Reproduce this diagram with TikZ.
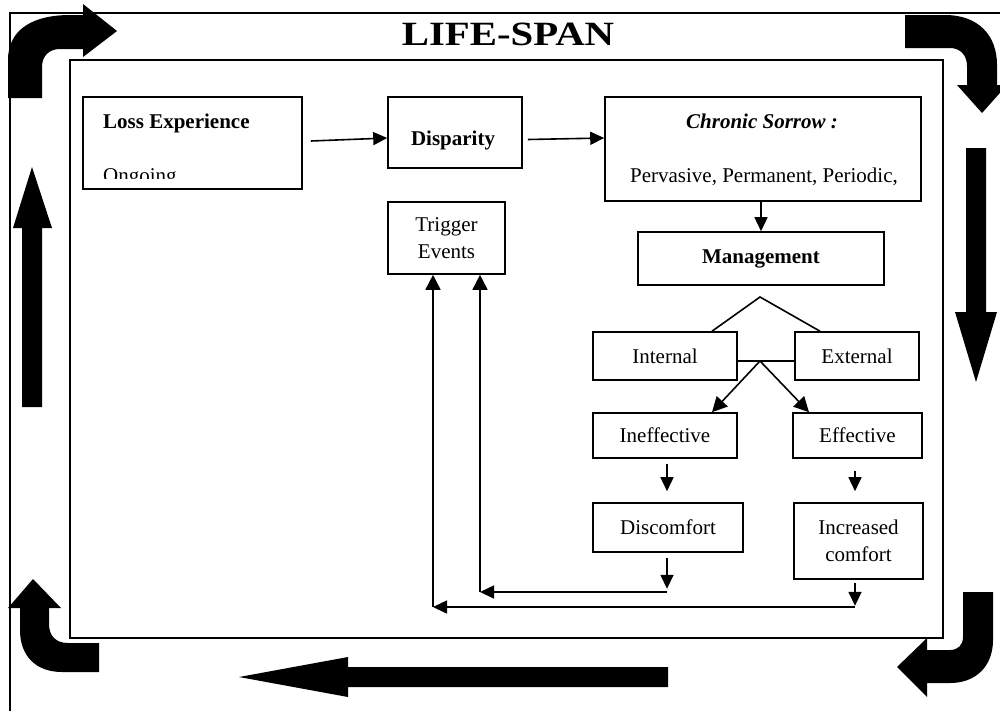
\documentclass[tikz,border=0pt]{standalone}
\usepackage{fontspec}
\setmainfont{Liberation Serif}
\newfontfamily\titlefont{Liberation Serif}[FakeStretch=1.2]
\usetikzlibrary{arrows.meta}
\begin{document}
\begin{tikzpicture}[x=1pt,y=-1pt,
  every node/.style={font=\fontsize{21}{27}\selectfont},
  box/.style={draw,line width=1.6pt,inner sep=0pt,align=center},
  lbl/.style={inner sep=0pt},
  ln/.style={line width=1.6pt},
  arr/.style={line width=1.6pt,-{Triangle[length=14pt,width=13pt]}},
  barr/.style={line width=1.6pt,-{Triangle[length=15pt,width=15pt]}},
  blk/.style={fill=black}]
\useasboundingbox (0,0) rectangle (1000,710);

% frames
\draw[ln] (10,712) -- (10,13) -- (1002,13);
\draw[ln] (70,60) rectangle (943,638);

% title
\node[lbl,font=\titlefont\fontsize{34}{40}\selectfont\bfseries,anchor=base] (title) at (508,45) {LIFE-SPAN};

% boxes
\node[box,minimum width=219pt,minimum height=92pt] (loss) at (192.5,143) {};
\begin{scope}
\clip (84,98) rectangle (301,178);
\node[lbl,anchor=base west,font=\fontsize{21}{27}\selectfont\bfseries] (losst) at (103,128) {Loss Experience};
\node[lbl,anchor=base west] (ong) at (103,182) {Ongoing};
\end{scope}

\node[box,minimum width=134pt,minimum height=71pt] (disp) at (455,132.5) {};
\node[lbl,font=\fontsize{21}{27}\selectfont\bfseries,anchor=base] (dispt) at (453,145) {Disparity};

\node[box,minimum width=316pt,minimum height=104pt] (chr) at (763,149) {};
\node[lbl,font=\fontsize{21}{27}\selectfont\bfseries\itshape,anchor=base] (chrt) at (762,128) {Chronic Sorrow :};
\node[lbl,anchor=base] (chrp) at (764,182) {Pervasive, Permanent, Periodic,};

\node[box,minimum width=246pt,minimum height=53pt,font=\fontsize{21}{27}\selectfont\bfseries] (mgmt) at (761,258.5) {Management};

\node[box,minimum width=117pt,minimum height=72pt] (trig) at (446.5,238) {Trigger\\Events};

\node[box,minimum width=144pt,minimum height=48pt] (int) at (665,356) {Internal};
\node[box,minimum width=124pt,minimum height=48pt] (ext) at (857,356) {External};
\node[box,minimum width=144pt,minimum height=45pt] (inef) at (665,435.5) {Ineffective};
\node[box,minimum width=129pt,minimum height=45pt] (eff) at (857.5,435.5) {Effective};
\node[box,minimum width=150pt,minimum height=49pt] (disc) at (668,527.5) {Discomfort};
\node[box,minimum width=129pt,minimum height=76pt] (inc) at (858.5,541) {Increased\\comfort};

% connectors
\draw[arr] ([shift={(8,-2)}]loss.east) -- ([shift={(0,5.5)}]disp.west);
\draw[arr] ([shift={(5,7)}]disp.east) -- ([shift={(0,-11)}]chr.west);
\draw[arr] (chr.south -| mgmt.north) -- (mgmt.north);

\coordinate (apex) at (760,297);
\draw[ln] ([shift={(47,0)}]int.north) -- (apex) -- ([shift={(-37,0)}]ext.north);
\draw[ln] ([shift={(0,5)}]int.east) -- ([shift={(0,5)}]ext.west);
\coordinate (mid) at (760,361);
\draw[barr] (mid) -- ([shift={(47,0)}]inef.north);
\draw[barr] (mid) -- ([shift={(-48.5,0)}]eff.north);

\draw[arr] ([shift={(2,5)}]inef.south) -- ([shift={(-1,-11)}]disc.north);
\draw[arr] ([shift={(-2.5,12)}]eff.south) -- ([shift={(-3.5,-11)}]inc.north);

\coordinate (r1) at (667,592);
\coordinate (l1) at (480,592);
\coordinate (r2) at (855,607);
\coordinate (l2) at (433,607);
\draw[arr] ([shift={(-1,5)}]disc.south) -- ([shift={(-1,36)}]disc.south);
\draw[arr] (r1) -- (l1);
\draw[barr] (l1) -- (l1 |- trig.south);
\draw[arr] ([shift={(-3.5,3)}]inc.south) -- ([shift={(-3.5,26)}]inc.south);
\draw[arr] (r2) -- (l2);
\draw[barr] (l2) -- (l2 |- trig.south);

% block arrows
\fill[blk] (8,98) -- (8,60) .. controls (8,28) and (35,15) .. (70,15) -- (83,15) -- (83,4) -- (117,31) -- (83,57) -- (83,49) -- (60,49) .. controls (49,49) and (42,56) .. (42,67) -- (42,98) -- cycle;
\fill[blk] (905,15) -- (945,15) .. controls (978,15) and (997,35) .. (997,65) -- (997,85) -- (1007,85) -- (982,113) -- (957,85) -- (967,85) -- (967,66) .. controls (967,55) and (960,48) .. (950,48) -- (905,48) -- cycle;
\fill[blk] (966,148) -- (986,148) -- (986,312) -- (997,312) -- (976,382) -- (955,312) -- (966,312) -- cycle;
\fill[blk] (22,407) -- (42,407) -- (42,228) -- (52,228) -- (32,167) -- (13,228) -- (22,228) -- cycle;
\fill[blk] (99,643) -- (68,643) .. controls (56,643) and (49,636) .. (49,624) -- (49,608) -- (61,608) -- (33,579) -- (8,608) -- (20,608) -- (20,630) .. controls (20,656) and (36,672) .. (62,672) -- (99,672) -- cycle;
\fill[blk] (963,592) -- (993,592) -- (993,640) .. controls (993,666) and (976,683) .. (950,683) -- (927,683) -- (927,697) -- (897,667) -- (927,638) -- (927,650) -- (950,650) .. controls (958,650) and (963,645) .. (963,637) -- cycle;
\fill[blk] (668,667) -- (348,667) -- (348,657) -- (239,677) -- (348,697) -- (348,687) -- (668,687) -- cycle;
\end{tikzpicture}
\end{document}
